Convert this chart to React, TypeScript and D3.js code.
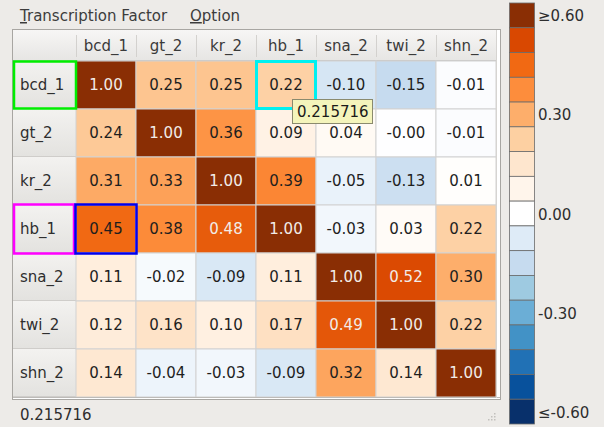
import React from "react";
import * as d3 from "d3";

// factor names, same order for rows and columns
const factors = ["bcd_1", "gt_2", "kr_2", "hb_1", "sna_2", "twi_2", "shn_2"];

// correlation values, one array per row
const bcd1Row = [1.0, 0.25, 0.25, 0.22, -0.1, -0.15, -0.01];
const gt2Row = [0.24, 1.0, 0.36, 0.09, 0.04, -0.003, -0.01];
const kr2Row = [0.31, 0.33, 1.0, 0.39, -0.05, -0.13, 0.01];
const hb1Row = [0.45, 0.38, 0.48, 1.0, -0.03, 0.03, 0.22];
const sna2Row = [0.11, -0.02, -0.09, 0.11, 1.0, 0.52, 0.3];
const twi2Row = [0.12, 0.16, 0.1, 0.17, 0.49, 1.0, 0.22];
const shn2Row = [0.14, -0.04, -0.03, -0.09, 0.32, 0.14, 1.0];
const matrix = [bcd1Row, gt2Row, kr2Row, hb1Row, sna2Row, twi2Row, shn2Row];

// colour legend bins (top to bottom)
const binValues = [0.6, 0.525, 0.45, 0.375, 0.3, 0.225, 0.15, 0.075, 0, -0.075, -0.15, -0.225, -0.3, -0.375, -0.45, -0.525, -0.6];
const binColors = [
  "#8a2e04", "#d94801", "#f16913", "#fd8d3c", "#fdae6b", "#fdd0a2", "#fee6ce", "#fff5eb", "#ffffff",
  "#deebf7", "#c6dbef", "#9ecae1", "#6baed6", "#4292c6", "#2171b5", "#08519c", "#08306b",
];
const legendTicks = [0.6, 0.3, 0, -0.3, -0.6];
const legendLabels = ["\u22650.60", "0.30", "0.00", "-0.30", "\u2264-0.60"];

// hovered / selected state
const hoverRow = "bcd_1";
const hoverCol = "hb_1";
const hoverValue = "0.215716";
const selRow = "hb_1";
const selCol = "bcd_1";
const currentRow = "bcd_1";

const W = 604;
const H = 427;
const font = "'DejaVu Sans', sans-serif";

export default function App() {
  const xScale = d3.scaleBand<string>().domain(factors).range([76, 496]);
  const yScale = d3.scaleBand<string>().domain(factors).range([61, 397]);
  const legendScale = d3.scaleBand<number>().domain(d3.range(binValues.length)).range([3, 424]);
  const color = d3
    .scaleLinear<string>()
    .domain([...binValues].reverse())
    .range([...binColors].reverse())
    .clamp(true);
  const darkText = 0.47;

  const cw = xScale.bandwidth();
  const ch = yScale.bandwidth();

  return (
    <div style={{ position: "fixed", left: 0, top: 0 }}>
      <svg width={W} height={H} style={{ display: "block", fontFamily: font }}>
        <defs>
          <linearGradient id="hdr" x1="0" y1="0" x2="0" y2="1">
            <stop offset="0" stopColor="#f7f6f5" />
            <stop offset="1" stopColor="#e6e5e3" />
          </linearGradient>
          <linearGradient id="rowhdr" x1="0" y1="0" x2="0" y2="1">
            <stop offset="0" stopColor="#f3f2f0" />
            <stop offset="1" stopColor="#e3e2df" />
          </linearGradient>
        </defs>
        <rect x={0} y={0} width={W} height={H} fill="#edebe8" />

        {/* menu bar */}
        <text x={20} y={21} fontSize={15} fill="#3c3c3c">
          <tspan style={{ textDecoration: "underline" }}>T</tspan>ranscription Factor
        </text>
        <text x={190} y={21} fontSize={15} fill="#3c3c3c">
          <tspan style={{ textDecoration: "underline" }}>O</tspan>ption
        </text>

        {/* table frame */}
        <rect x={12.5} y={29.5} width={488} height={370} fill="#ffffff" stroke="#a8a6a2" />

        {/* header row */}
        <rect x={13} y={30} width={483} height={31} fill="url(#hdr)" />
        <line x1={13} x2={496} y1={60.5} y2={60.5} stroke="#c9c7c4" />
        {factors.map((f) => (
          <g key={"ch" + f}>
            <line x1={xScale(f)! + 0.5} x2={xScale(f)! + 0.5} y1={35} y2={57} stroke="#d3d1ce" />
            <text x={xScale(f)! + cw / 2} y={51} textAnchor="middle" fontSize={15} fill="#3a3a3a">
              {f}
            </text>
          </g>
        ))}

        {/* row headers */}
        {factors.map((f) => (
          <g key={"rh" + f}>
            <rect x={13} y={yScale(f)!} width={63} height={ch} fill="url(#rowhdr)" />
            <line x1={13} x2={76} y1={yScale(f)! + ch - 0.5} y2={yScale(f)! + ch - 0.5} stroke="#cfcdca" />
            <text x={20} y={yScale(f)! + ch / 2 + 5} fontSize={15} fill="#2e2e2e">
              {f}
            </text>
          </g>
        ))}

        {/* cells */}
        {matrix.map((row, i) =>
          row.map((v, j) => {
            const x = xScale(factors[j])!;
            const y = yScale(factors[i])!;
            return (
              <g key={`c${i}-${j}`}>
                <rect x={x} y={y} width={cw} height={ch} fill={color(v)} stroke="#d2d2d2" strokeWidth={1} />
                <text
                  x={x + cw / 2}
                  y={y + ch / 2 + 5}
                  textAnchor="middle"
                  fontSize={15}
                  fill={Math.abs(v) >= darkText ? "#f2ece8" : "#1e1e1e"}
                >
                  {v.toFixed(2)}
                </text>
              </g>
            );
          })
        )}
        <line x1={13} x2={500} y1={397.5} y2={397.5} stroke="#bdbbb8" />
        <line x1={496.5} x2={496.5} y1={30} y2={398} stroke="#d6d4d1" />

        {/* selection outlines */}
        <rect x={14} y={yScale(currentRow)! + 0.5} width={62} height={ch - 1} fill="none" stroke="#00ee00" strokeWidth={2.5} />
        <rect x={14} y={yScale(selRow)! - 0.5} width={60} height={ch + 1} fill="none" stroke="#ff00ff" strokeWidth={2.5} />
        <rect
          x={xScale(hoverCol)! + 0.5}
          y={yScale(hoverRow)! + 0.5}
          width={cw - 1}
          height={ch - 1}
          fill="none"
          stroke="#00f0f0"
          strokeWidth={3}
        />
        <rect
          x={xScale(selCol)! - 0.5}
          y={yScale(selRow)! - 0.5}
          width={cw + 1}
          height={ch + 1}
          fill="none"
          stroke="#0000ee"
          strokeWidth={2.5}
        />

        {/* tooltip */}
        <rect
          x={xScale(hoverCol)! + 36.5}
          y={yScale(hoverRow)! + 38.5}
          width={80}
          height={24}
          fill="#f4f4bb"
          stroke="#8a8a6e"
        />
        <text x={xScale(hoverCol)! + 41} y={yScale(hoverRow)! + 56} fontSize={15} fill="#1a1a1a">
          {hoverValue}
        </text>

        {/* status bar */}
        <text x={20} y={420} fontSize={15} fill="#2e2e2e">
          {hoverValue}
        </text>
        {[0, 1, 2].map((a) =>
          [0, 1, 2].filter((b) => a + b >= 2).map((b) => (
            <rect key={`g${a}${b}`} x={488 + a * 3} y={413 + b * 3} width={1.5} height={1.5} fill="#c2c0bc" />
          ))
        )}

        {/* colour legend */}
        {binColors.map((c, i) => (
          <rect
            key={"lg" + i}
            x={509.5}
            y={legendScale(i)!}
            width={25}
            height={legendScale.bandwidth()}
            fill={c}
            stroke="#6b6b6b"
            strokeWidth={0.8}
          />
        ))}
        {legendTicks.map((t, k) => {
          const idx = binValues.indexOf(t);
          return (
            <text key={"lt" + k} x={538} y={legendScale(idx)! + legendScale.bandwidth() / 2 + 6} fontSize={15} fill="#2e2e2e">
              {legendLabels[k]}
            </text>
          );
        })}
      </svg>
    </div>
  );
}
